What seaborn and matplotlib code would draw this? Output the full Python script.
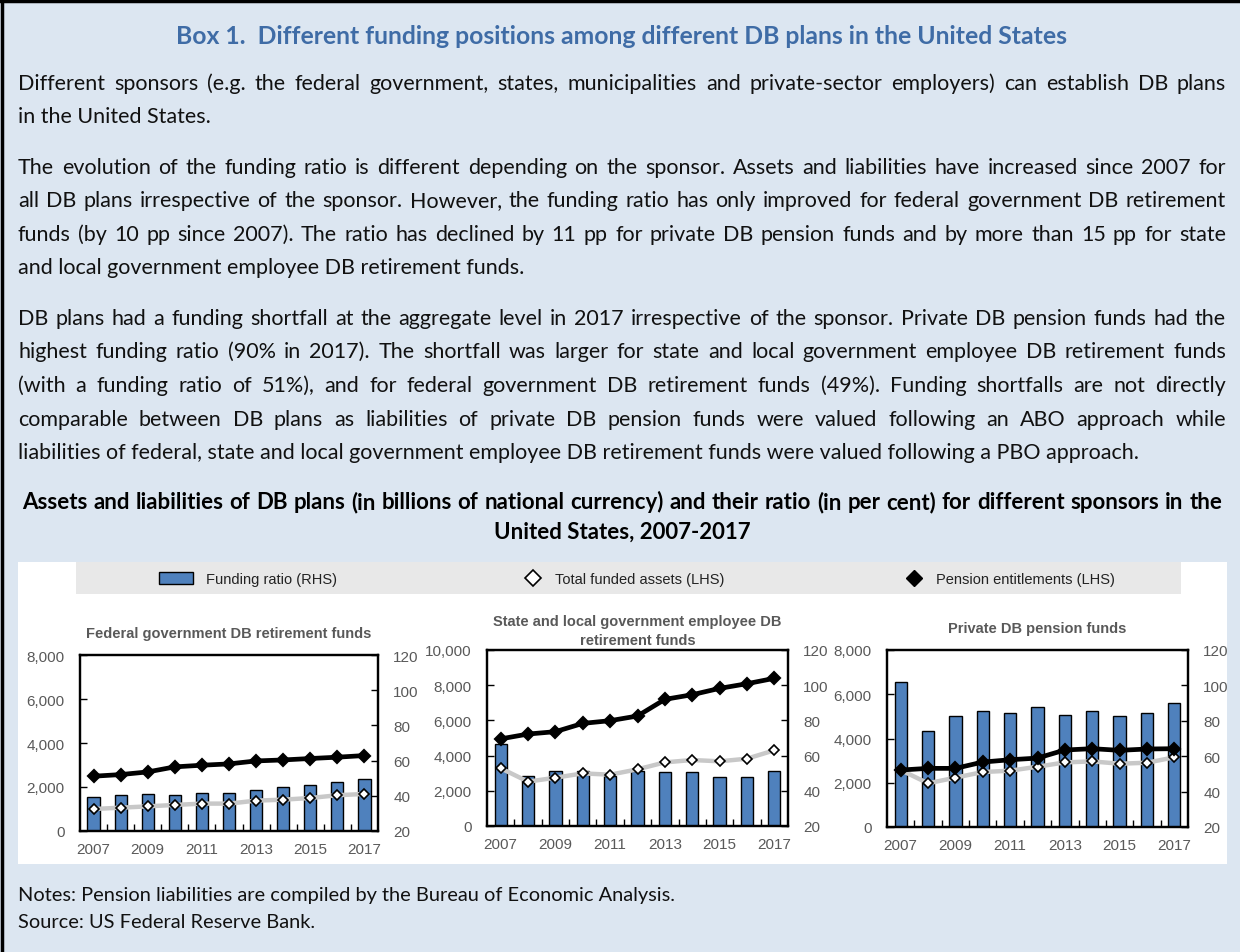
import matplotlib
matplotlib.use("Agg")
import matplotlib.pyplot as plt
import seaborn as sns
import pandas as pd
from matplotlib.patches import Rectangle, Patch
from matplotlib.lines import Line2D
from matplotlib.ticker import StrMethodFormatter, FixedLocator

# ---------------- data ----------------
years = ["2007", "2008", "2009", "2010", "2011", "2012", "2013", "2014", "2015", "2016", "2017"]

fed_ratio = [39.5, 40.3, 41.1, 40.3, 41.8, 41.8, 43.3, 44.9, 46.4, 48.1, 49.6]
fed_assets = [1000, 1060, 1120, 1185, 1245, 1245, 1380, 1425, 1500, 1625, 1685]
fed_liab = [2490, 2565, 2685, 2915, 2990, 3050, 3185, 3230, 3295, 3355, 3430]

sl_ratio = [66.8, 48.4, 51.3, 51.3, 48.4, 51.3, 50.7, 50.7, 47.7, 47.7, 51.3]
sl_assets = [3280, 2520, 2745, 2990, 2915, 3220, 3615, 3750, 3675, 3825, 4300]
sl_liab = [4950, 5225, 5360, 5830, 5985, 6250, 7195, 7460, 7820, 8085, 8390]

pr_ratio = [101.9, 74.2, 82.7, 85.7, 84.2, 88.0, 83.5, 85.7, 82.7, 84.2, 90.2]
pr_assets = [2575, 1975, 2230, 2485, 2545, 2725, 2920, 2965, 2860, 2905, 3150]
pr_liab = [2575, 2650, 2650, 2935, 3040, 3115, 3480, 3540, 3465, 3525, 3540]

panel_titles = ["Federal government DB retirement funds",
                "State and local government employee DB\nretirement funds",
                "Private DB pension funds"]
left_max = [8000, 10000, 8000]
left_step = [2000, 2000, 2000]

legend_labels = ["Funding ratio (RHS)", "Total funded assets (LHS)", "Pension entitlements (LHS)"]

box_title = "Box 1.  Different funding positions among different DB plans in the United States"
paragraphs = [
    ["Different sponsors (e.g. the federal government, states, municipalities and private-sector employers) can establish DB plans",
     "in the United States."],
    ["The evolution of the funding ratio is different depending on the sponsor. Assets and liabilities have increased since 2007 for",
     "all DB plans irrespective of the sponsor. However, the funding ratio has only improved for federal government DB retirement",
     "funds (by 10 pp since 2007). The ratio has declined by 11 pp for private DB pension funds and by more than 15 pp for state",
     "and local government employee DB retirement funds."],
    ["DB plans had a funding shortfall at the aggregate level in 2017 irrespective of the sponsor. Private DB pension funds had the",
     "highest funding ratio (90% in 2017). The shortfall was larger for state and local government employee DB retirement funds",
     "(with a funding ratio of 51%), and for federal government DB retirement funds (49%). Funding shortfalls are not directly",
     "comparable between DB plans as liabilities of private DB pension funds were valued following an ABO approach while",
     "liabilities of federal, state and local government employee DB retirement funds were valued following a PBO approach."],
]
para_y = [[84, 117], [168, 201, 235, 268], [319, 352, 386, 420, 453]]
chart_title = ["Assets and liabilities of DB plans (in billions of national currency) and their ratio (in per cent) for different sponsors in the",
               "United States, 2007-2017"]
notes = ["Notes: Pension liabilities are compiled by the Bureau of Economic Analysis.",
         "Source: US Federal Reserve Bank."]

# ---------------- style ----------------
sns.set_theme(style="white")
plt.rcParams['font.family'] = ['Liberation Sans', 'DejaVu Sans']

W, H = 1240, 953
fig = plt.figure(figsize=(W / 100, H / 100), dpi=100)
BG = "#dce6f1"
fig.patch.set_facecolor(BG)

def fx(x):
    return x / W

def fy(y):
    return (H - y) / H

# border (top + left)
fig.add_artist(Line2D([0, 1], [fy(1.5), fy(1.5)], color="black", lw=2.5, transform=fig.transFigure))
fig.add_artist(Line2D([fx(1.5), fx(1.5)], [0, 1], color="black", lw=2.5, transform=fig.transFigure))

# white chart region and grey legend band
fig.add_artist(Rectangle((fx(18), fy(865)), fx(1227) - fx(18), fy(563) - fy(865),
                         transform=fig.transFigure, facecolor="white", edgecolor="none", zorder=0))
fig.add_artist(Rectangle((fx(76), fy(595)), fx(1181) - fx(76), fy(563) - fy(595),
                         transform=fig.transFigure, facecolor="#e8e8e8", edgecolor="none", zorder=0.5))

BODY = ['Lato', 'DejaVu Sans']
renderer = fig.canvas.get_renderer()

def text_width(s, **kw):
    t = fig.text(0, 0, s, **kw)
    w = t.get_window_extent(renderer).width
    t.remove()
    return w

BASE_OFF = 6  # pixels from visual centre to baseline

def justify(line, y, x0, x1, **kw):
    words = line.split(" ")
    ws = [text_width(w, **kw) for w in words]
    gap = (x1 - x0 - sum(ws)) / (len(words) - 1)
    x = x0
    for w, wd in zip(words, ws):
        fig.text(fx(x), fy(y + BASE_OFF), w, ha="left", va="baseline", **kw)
        x += wd + gap

# body text size fitted so longest line nearly fills width
base = 14
longest = max(max(text_width(l, family=BODY, fontsize=base) for l in p) for p in paragraphs)
body_size = base * 1185 / longest
body_kw = dict(family=BODY, fontsize=body_size, color="#111111")

fig.text(fx(622), fy(38 + BASE_OFF), box_title, ha="center", va="baseline", family=BODY,
         fontsize=body_size * 1.15, fontweight="bold", color="#3f6ca6")

for lines, ys in zip(paragraphs, para_y):
    for i, (line, y) in enumerate(zip(lines, ys)):
        if i < len(lines) - 1:
            justify(line, y, 18, 1226, **body_kw)
        else:
            fig.text(fx(18), fy(y + BASE_OFF), line, ha="left", va="baseline", **body_kw)

ct_kw = dict(family=BODY, fontweight="bold", color="#000000")
w1 = text_width(chart_title[0], fontsize=14, **ct_kw)
ct_size = 14 * 1195 / w1
justify(chart_title[0], 503, 22, 1222, fontsize=ct_size, **ct_kw)
fig.text(fx(622), fy(533 + BASE_OFF), chart_title[1], ha="center", va="baseline", fontsize=ct_size, **ct_kw)

for line, y in zip(notes, [895, 922]):
    fig.text(fx(18), fy(y + BASE_OFF), line, ha="left", va="baseline", family=BODY,
             fontsize=body_size * 0.93, color="#111111")

# ---------------- panels ----------------
BLUE = "#4f81bd"
PLOT_BG = "#f0fbff"
TICKC = "#595959"
TS = 11
boxes = [(80, 378, 656, 832), (487, 788, 651, 827), (887, 1188, 651, 828)]
series = [(fed_ratio, fed_assets, fed_liab), (sl_ratio, sl_assets, sl_liab), (pr_ratio, pr_assets, pr_liab)]

for k, ((l, r, t, b), (ratio, assets, liab)) in enumerate(zip(boxes, series)):
    ax = fig.add_axes([fx(l), fy(b), fx(r) - fx(l), fy(t) - fy(b)])
    ax2 = ax.twinx()
    df = pd.DataFrame({"year": years, "ratio": ratio, "assets": assets, "liab": liab})

    sns.barplot(data=df, x="year", y="ratio", ax=ax2, color=BLUE, width=0.45,
                edgecolor="black", linewidth=1.0, saturation=1)
    sns.pointplot(data=df, x="year", y="assets", ax=ax, color="#c8c8c8", errorbar=None,
                  marker="D", markersize=5.5, markerfacecolor="white", markeredgecolor="black",
                  markeredgewidth=1.2, linewidth=3.2)
    sns.pointplot(data=df, x="year", y="liab", ax=ax, color="black", errorbar=None,
                  marker="D", markersize=5.5, markerfacecolor="black", markeredgecolor="black",
                  linewidth=3.4)

    ax.set_zorder(ax2.get_zorder() + 1)
    ax.patch.set_visible(False)
    ax2.set_facecolor(PLOT_BG)

    ax.set_xlim(-0.5, len(years) - 0.5)
    ax.set_ylim(0, left_max[k])
    ax.set_yticks(range(0, left_max[k] + 1, left_step[k]))
    ax.yaxis.set_major_formatter(StrMethodFormatter("{x:,.0f}"))
    ax2.set_ylim(20, 120)
    ax2.set_yticks(range(20, 121, 20))

    ax.set_xticks(range(0, len(years), 2))
    ax.set_xticklabels(years[::2])
    ax.xaxis.set_minor_locator(FixedLocator([i + 0.5 for i in range(len(years) - 1)]))
    ax2.xaxis.set_minor_locator(FixedLocator([i + 0.5 for i in range(len(years) - 1)]))
    ax2.grid(True, which="minor", axis="x", color="white", lw=1.2)
    ax2.grid(False, which="major")
    ax.grid(False)

    for a in (ax, ax2):
        a.set_xlabel("")
        a.set_ylabel("")
        for s in a.spines.values():
            s.set_color("black")
            s.set_linewidth(1.6)

    ax.tick_params(axis="y", which="major", direction="in", length=5, width=1, color="black",
                   labelsize=TS, labelcolor=TICKC, pad=11, left=True)
    ax2.tick_params(axis="y", which="major", direction="in", length=5, width=1, color="black",
                    labelsize=TS, labelcolor=TICKC, pad=11, right=True)
    ax.tick_params(axis="x", which="major", length=0, labelsize=TS, labelcolor=TICKC, pad=8)
    ax.tick_params(axis="x", which="minor", direction="in", length=5, width=1, color="black", bottom=True)
    ax2.tick_params(axis="x", which="both", bottom=False, top=False)

    ax.set_title(panel_titles[k], fontsize=10.5, fontweight="bold", color=TICKC,
                 pad=13 if k != 1 else 4, linespacing=1.45)

# ---------------- legend ----------------
handles = [Patch(facecolor=BLUE, edgecolor="black", linewidth=1.0),
           Line2D([], [], color="none", marker="D", markersize=8, markerfacecolor="white",
                  markeredgecolor="black", markeredgewidth=1.2),
           Line2D([], [], color="none", marker="D", markersize=8, markerfacecolor="black",
                  markeredgecolor="black")]
leg_x = [159, 524, 905]
hl = [2.3, 1.2, 1.2]
for h, lab, x, L in zip(handles, legend_labels, leg_x, hl):
    leg = fig.legend([h], [lab], loc="center left", bbox_to_anchor=(fx(x), fy(580)),
                     frameon=False, fontsize=10.5, handlelength=L, handleheight=0.8,
                     handletextpad=0.9, borderpad=0, borderaxespad=0)
    for tx in leg.get_texts():
        tx.set_color("#222222")

fig.savefig("out.png", dpi=100, facecolor=BG)
